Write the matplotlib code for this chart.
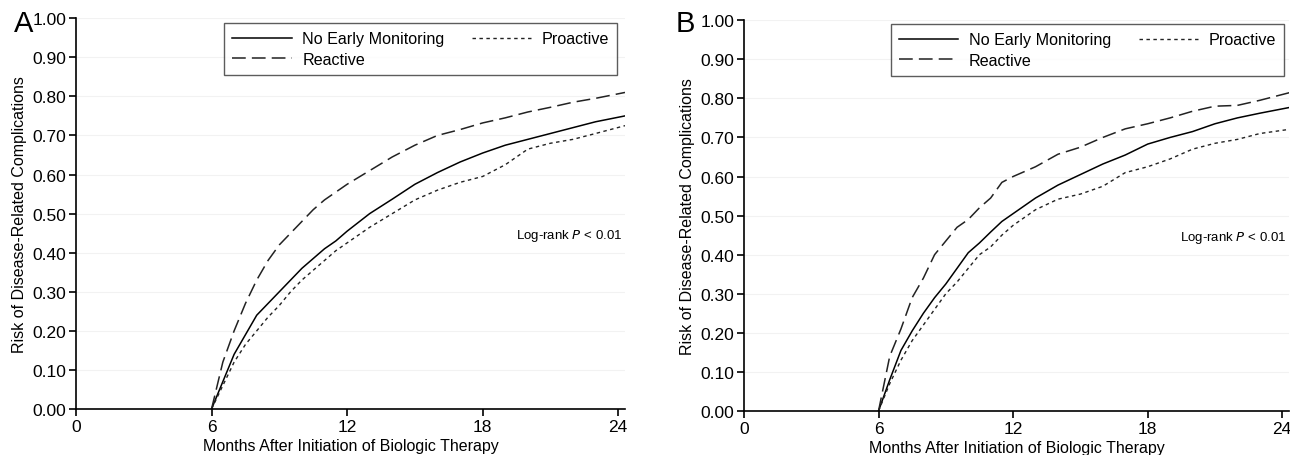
import numpy as np
import matplotlib
matplotlib.use("Agg")
import matplotlib.pyplot as plt

plt.rcParams['font.family'] = ['Liberation Sans', 'DejaVu Sans']

# Panel A (months after initiation, cumulative risk)
months_a = [6, 6.5, 7, 7.5, 8, 8.5, 9, 9.5, 10, 10.5, 11, 11.5, 12, 13, 14, 15, 16, 17, 18, 19, 20, 21, 22, 23, 24.3]
none_a = [0, 0.07, 0.14, 0.19, 0.24, 0.27, 0.30, 0.33, 0.36, 0.385, 0.41, 0.43, 0.455, 0.50, 0.537, 0.575, 0.605,
          0.632, 0.655, 0.675, 0.69, 0.705, 0.72, 0.735, 0.75]
reactive_a = [0, 0.12, 0.2, 0.27, 0.33, 0.38, 0.42, 0.45, 0.48, 0.51, 0.535, 0.555, 0.575, 0.61, 0.645, 0.675, 0.70,
              0.715, 0.732, 0.745, 0.76, 0.772, 0.785, 0.795, 0.81]
proactive_a = [0, 0.06, 0.12, 0.165, 0.20, 0.235, 0.265, 0.30, 0.33, 0.355, 0.38, 0.405, 0.425, 0.465, 0.50, 0.535,
               0.56, 0.58, 0.595, 0.625, 0.665, 0.68, 0.69, 0.705, 0.725]

# Panel B
months_b = [6, 6.5, 7, 7.5, 8, 8.5, 9, 9.5, 10, 10.5, 11, 11.5, 12, 13, 14, 15, 16, 17, 18, 19, 20, 21, 22, 23, 24.35]
none_b = [0, 0.08, 0.155, 0.205, 0.25, 0.29, 0.325, 0.365, 0.405, 0.43, 0.458, 0.485, 0.505, 0.545, 0.578, 0.605,
          0.632, 0.655, 0.683, 0.70, 0.715, 0.735, 0.75, 0.762, 0.777]
reactive_b = [0, 0.14, 0.21, 0.29, 0.34, 0.40, 0.435, 0.47, 0.49, 0.52, 0.545, 0.585, 0.60, 0.625, 0.657, 0.675, 0.70,
              0.722, 0.735, 0.75, 0.767, 0.78, 0.782, 0.795, 0.815]
proactive_b = [0, 0.07, 0.13, 0.18, 0.22, 0.26, 0.30, 0.33, 0.365, 0.40, 0.42, 0.45, 0.475, 0.515, 0.542, 0.555,
               0.575, 0.61, 0.625, 0.645, 0.67, 0.685, 0.695, 0.71, 0.721]

labels = ["No Early Monitoring", "Reactive", "Proactive"]
yticks = np.arange(0, 1.01, 0.1)
xticks = [0, 6, 12, 18, 24]

fig = plt.figure(figsize=(12.9, 4.56), dpi=100)
ax_a = fig.add_axes([0.0589, 0.1009, 0.4256, 0.857])
ax_b = fig.add_axes([0.5767, 0.0965, 0.4225, 0.857])


def draw_panel(ax, m, none, reactive, proactive, letter, letter_x, leg_anchor):
    ax.plot(m, none, color="black", lw=1.1, ls="-", label=labels[0])
    ax.plot(m, reactive, color="#222222", lw=1.1, ls=(0, (9, 4)), label=labels[1])
    ax.plot(m, proactive, color="#222222", lw=1.0, ls=(0, (2.5, 2.5)), label=labels[2])
    ax.set_xlim(0, 24.3)
    ax.set_ylim(0, 1.0)
    ax.set_xticks(xticks)
    ax.set_yticks(yticks)
    ax.set_yticklabels(["%.2f" % v for v in yticks])
    ax.grid(axis="y", color="#f2f2f2", lw=0.8)
    ax.set_axisbelow(True)
    for s in ["top", "right"]:
        ax.spines[s].set_visible(False)
    ax.spines["left"].set_linewidth(1.2)
    ax.spines["bottom"].set_linewidth(1.2)
    ax.tick_params(direction="out", length=5, width=1.2, labelsize=12.5, pad=2)
    ax.set_xlabel("Months After Initiation of Biologic Therapy", fontsize=11.5, labelpad=3)
    ax.set_ylabel("Risk of Disease-Related Complications", fontsize=11.5, labelpad=4)
    leg = ax.legend(loc="upper right", bbox_to_anchor=leg_anchor, ncol=2, fontsize=11.6, frameon=True,
                    fancybox=False, edgecolor="#333333", handlelength=3.7, columnspacing=1.7,
                    handletextpad=0.65, borderpad=0.5, labelspacing=0.35, borderaxespad=0)
    leg.get_frame().set_linewidth(1.0)
    ax.text(0.995, 0.445, "Log-rank $\\it{P}$ < 0.01", transform=ax.transAxes, ha="right", va="center",
            fontsize=9.5)
    fig.text(letter_x, 0.947, letter, fontsize=21, ha="left", va="center")


draw_panel(ax_a, months_a, none_a, reactive_a, proactive_a, "A", 0.0109, (0.986, 0.987))
draw_panel(ax_b, months_b, none_b, reactive_b, proactive_b, "B", 0.524, (0.991, 0.99))

fig.savefig("out.png", dpi=100)
